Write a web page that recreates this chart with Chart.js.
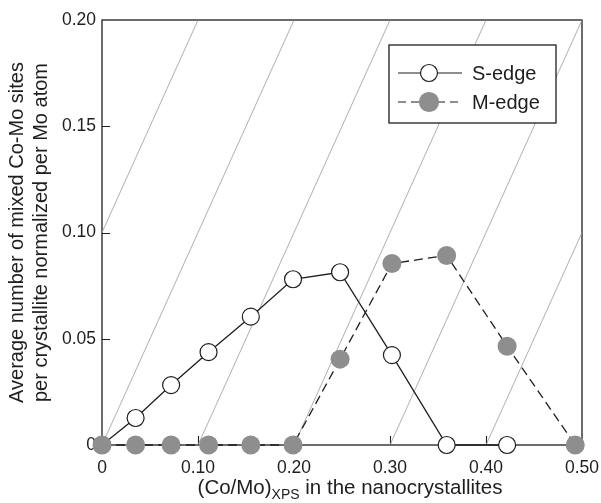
<!DOCTYPE html>
<html>
<head>
<meta charset="utf-8">
<script src="https://cdn.jsdelivr.net/npm/chart.js@4.4.0/dist/chart.umd.min.js"></script>
<style>
  body { margin: 0; background: #fff; }
  canvas { display: block; }
</style>
</head>
<body>
<canvas id="chartCanvas" width="601" height="503"></canvas>
<script>
"use strict";

// Co/Mo ratio of the samples and the two edge-site estimates
const coMoRatio = [0, 0.035, 0.072, 0.111, 0.155, 0.199, 0.248, 0.302, 0.359, 0.422, 0.493];
const sEdgeSites = [0, 0.0127, 0.0282, 0.0437, 0.0604, 0.078, 0.0813, 0.0423, 0, 0];
const mEdgeSites = [0, 0, 0, 0, 0, 0, 0.0404, 0.0854, 0.0892, 0.0465, 0];

const xTicks = [0, 0.1, 0.2, 0.3, 0.4, 0.5];
const yTicks = [0, 0.05, 0.1, 0.15, 0.2];

// thin guide lines y = x - offset
const guideOffsets = [-0.1, 0, 0.1, 0.2, 0.3, 0.4];

const FONT = "'Liberation Sans', Arial, Helvetica, sans-serif";
const INK = "#1e1e1e";
const GREY = "#8e8e8e";

const toPoints = (ys) => ys.map((y, i) => ({ x: coMoRatio[i], y: y }));
const fmt = (v) => (v === 0 ? "0" : v.toFixed(2));

const guideSets = guideOffsets.map((off) => ({
  label: "guide",
  data: [
    { x: off, y: 0 },
    { x: off + 0.2, y: 0.2 },
  ],
  borderColor: "#9a9a9a",
  borderWidth: 0.8,
  pointRadius: 0,
  order: 10,
}));

// frame, inward ticks, axis titles and the boxed legend
const decorations = {
  id: "decorations",
  beforeDatasetsDraw(chart) {
    const { ctx, chartArea: a, scales } = chart;
    ctx.save();
    ctx.strokeStyle = INK;
    ctx.lineWidth = 1.3;
    ctx.strokeRect(a.left, a.top, a.right - a.left, a.bottom - a.top);

    ctx.lineWidth = 1.1;
    ctx.beginPath();
    xTicks.slice(1, -1).forEach((v) => {
      const px = Math.round(scales.x.getPixelForValue(v)) + 0.5;
      ctx.moveTo(px, a.bottom);
      ctx.lineTo(px, a.bottom - 9);
    });
    yTicks.slice(1, -1).forEach((v) => {
      const py = Math.round(scales.y.getPixelForValue(v)) + 0.5;
      ctx.moveTo(a.left, py);
      ctx.lineTo(a.left + 8, py);
    });
    ctx.stroke();
    ctx.restore();
  },
  afterDraw(chart) {
    const { ctx, chartArea: a } = chart;
    ctx.save();
    ctx.fillStyle = INK;

    // x title with subscript
    const main1 = "(Co/Mo)";
    const sub = "XPS";
    const main2 = " in the nanocrystallites";
    ctx.font = "20.5px " + FONT;
    const w1 = ctx.measureText(main1).width;
    const w3 = ctx.measureText(main2).width;
    ctx.font = "14px " + FONT;
    const w2 = ctx.measureText(sub).width;
    let x = (a.left + a.right) / 2 - (w1 + w2 + w3) / 2 + 8;
    const base = 494;
    ctx.textBaseline = "alphabetic";
    ctx.textAlign = "left";
    ctx.font = "20.5px " + FONT;
    ctx.fillText(main1, x, base);
    x += w1;
    ctx.font = "14px " + FONT;
    ctx.fillText(sub, x, base + 5);
    x += w2;
    ctx.font = "20.5px " + FONT;
    ctx.fillText(main2, x, base);

    // y title, two lines
    ctx.save();
    ctx.translate(0, (a.top + a.bottom) / 2);
    ctx.rotate(-Math.PI / 2);
    ctx.textAlign = "center";
    ctx.textBaseline = "middle";
    ctx.font = "20px " + FONT;
    ctx.fillText("Average number of mixed Co-Mo sites", 0, 17);
    ctx.fillText("per crystallite normalized per Mo atom", 0, 41);
    ctx.restore();

    // legend box
    const box = { l: 389, t: 45, r: 556, b: 123 };
    ctx.fillStyle = "#fff";
    ctx.fillRect(box.l, box.t, box.r - box.l, box.b - box.t);
    ctx.strokeStyle = INK;
    ctx.lineWidth = 1.3;
    ctx.strokeRect(box.l, box.t, box.r - box.l, box.b - box.t);

    const rows = [
      { y: 73, text: "S-edge", dash: [], fill: "#fff", stroke: INK, r: 8.5 },
      { y: 102, text: "M-edge", dash: [8, 5], fill: GREY, stroke: GREY, r: 9.5 },
    ];
    rows.forEach((row) => {
      ctx.strokeStyle = INK;
      ctx.lineWidth = 1.2;
      ctx.setLineDash(row.dash);
      ctx.beginPath();
      ctx.moveTo(398, row.y);
      ctx.lineTo(462, row.y);
      ctx.stroke();
      ctx.setLineDash([]);
      ctx.beginPath();
      ctx.arc(429, row.y, row.r, 0, Math.PI * 2);
      ctx.fillStyle = row.fill;
      ctx.fill();
      ctx.strokeStyle = row.stroke;
      ctx.stroke();
      ctx.fillStyle = INK;
      ctx.font = "20px " + FONT;
      ctx.textAlign = "left";
      ctx.textBaseline = "middle";
      ctx.fillText(row.text, 472, row.y + 1);
    });
    ctx.restore();
  },
};

const ctx = document.getElementById("chartCanvas").getContext("2d");

new Chart(ctx, {
  type: "line",
  data: {
    datasets: [
      ...guideSets,
      {
        label: "S-edge",
        data: toPoints(sEdgeSites),
        borderColor: INK,
        borderWidth: 1.3,
        pointRadius: 8.5,
        pointBackgroundColor: "#fff",
        pointBorderColor: INK,
        pointBorderWidth: 1.2,
        clip: false,
        order: 2,
      },
      {
        label: "M-edge",
        data: toPoints(mEdgeSites),
        borderColor: INK,
        borderWidth: 1.3,
        borderDash: [9, 5],
        pointRadius: 9.5,
        pointBackgroundColor: GREY,
        pointBorderColor: GREY,
        pointBorderWidth: 0,
        clip: false,
        order: 1,
      },
    ],
  },
  options: {
    responsive: false,
    animation: false,
    layout: { padding: { top: 20, right: 19, left: 0, bottom: 0 } },
    plugins: {
      legend: { display: false },
      tooltip: { enabled: false },
    },
    scales: {
      x: {
        type: "linear",
        min: 0,
        max: 0.5,
        afterBuildTicks: (scale) => {
          scale.ticks = xTicks.map((v) => ({ value: v }));
        },
        afterFit: (scale) => {
          scale.height = 58;
          scale.paddingLeft = 0;
          scale.paddingRight = 0;
        },
        grid: { display: false, drawTicks: false },
        border: { display: false },
        ticks: {
          padding: 13,
          color: INK,
          font: { family: FONT, size: 17.5 },
          maxRotation: 0,
          callback: (v) => fmt(v),
        },
      },
      y: {
        type: "linear",
        min: 0,
        max: 0.2,
        afterBuildTicks: (scale) => {
          scale.ticks = yTicks.map((v) => ({ value: v }));
        },
        afterFit: (scale) => {
          scale.width = 102;
          scale.paddingTop = 0;
          scale.paddingBottom = 0;
        },
        grid: { display: false, drawTicks: false },
        border: { display: false },
        ticks: {
          padding: 6,
          color: INK,
          font: { family: FONT, size: 17.5 },
          callback: (v) => fmt(v),
        },
      },
    },
  },
  plugins: [decorations],
});
</script>
</body>
</html>
